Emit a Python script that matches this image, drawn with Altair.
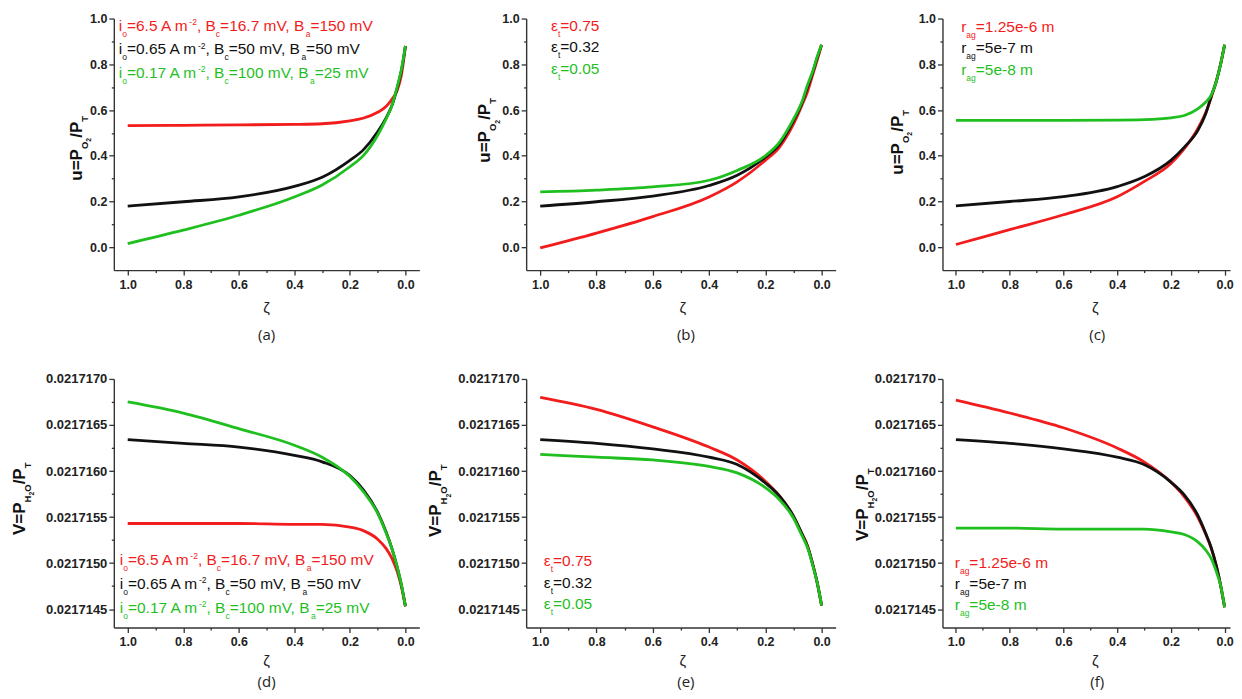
import altair as alt
import pandas as pd

# ---------------- data ----------------
ZETA = [1.0, 0.8, 0.6, 0.4, 0.3, 0.2, 0.15, 0.1, 0.07, 0.05, 0.03, 0.015, 0.0]

# u = P_O2 / P_T
A_RED = [0.532, 0.533, 0.535, 0.537, 0.540, 0.553, 0.565, 0.590, 0.615, 0.645, 0.685, 0.750, 0.880]
A_BLACK = [0.180, 0.199, 0.220, 0.266, 0.306, 0.380, 0.428, 0.505, 0.565, 0.615, 0.695, 0.770, 0.880]
A_GREEN = [0.016, 0.075, 0.140, 0.220, 0.272, 0.352, 0.403, 0.490, 0.560, 0.615, 0.700, 0.775, 0.880]

B_RED = [-0.003, 0.062, 0.134, 0.220, 0.286, 0.380, 0.437, 0.538, 0.620, 0.680, 0.760, 0.820, 0.885]
B_BLACK = [0.180, 0.199, 0.224, 0.270, 0.315, 0.394, 0.450, 0.553, 0.630, 0.700, 0.770, 0.830, 0.885]
B_GREEN = [0.242, 0.250, 0.264, 0.293, 0.336, 0.400, 0.459, 0.560, 0.635, 0.710, 0.775, 0.835, 0.885]

C_RED = [0.012, 0.077, 0.142, 0.221, 0.287, 0.366, 0.431, 0.518, 0.590, 0.655, 0.730, 0.800, 0.885]
C_BLACK = [0.181, 0.200, 0.221, 0.265, 0.308, 0.380, 0.438, 0.510, 0.585, 0.660, 0.730, 0.800, 0.885]
C_GREEN = [0.555, 0.555, 0.555, 0.556, 0.558, 0.566, 0.576, 0.605, 0.635, 0.665, 0.730, 0.800, 0.885]

# v = P_H2O / P_T
D_RED = [0.02171543, 0.02171543, 0.02171543, 0.02171542, 0.02171542, 0.02171539, 0.02171535,
         0.02171526, 0.02171516, 0.02171506, 0.02171491, 0.02171475, 0.02171453]
D_BLACK = [0.02171634, 0.02171630, 0.02171626, 0.02171617, 0.02171610, 0.02171595, 0.02171579,
           0.02171555, 0.02171534, 0.02171517, 0.02171496, 0.02171477, 0.02171453]
D_GREEN = [0.02171675, 0.02171663, 0.02171646, 0.02171628, 0.02171615, 0.02171594, 0.02171577,
           0.02171554, 0.02171533, 0.02171517, 0.02171496, 0.02171477, 0.02171453]

E_RED = [0.02171680, 0.02171667, 0.02171648, 0.02171626, 0.02171612, 0.02171589, 0.02171573,
         0.02171551, 0.02171532, 0.02171519, 0.02171497, 0.02171478, 0.02171454]
E_BLACK = [0.02171634, 0.02171630, 0.02171624, 0.02171615, 0.02171607, 0.02171587, 0.02171573,
           0.02171551, 0.02171532, 0.02171518, 0.02171497, 0.02171478, 0.02171454]
E_GREEN = [0.02171618, 0.02171615, 0.02171612, 0.02171605, 0.02171598, 0.02171582, 0.02171569,
           0.02171549, 0.02171530, 0.02171517, 0.02171496, 0.02171478, 0.02171454]

F_RED = [0.02171677, 0.02171663, 0.02171647, 0.02171625, 0.02171610, 0.02171588, 0.02171572,
         0.02171550, 0.02171531, 0.02171516, 0.02171496, 0.02171476, 0.02171452]
F_BLACK = [0.02171634, 0.02171630, 0.02171624, 0.02171615, 0.02171607, 0.02171588, 0.02171574,
           0.02171552, 0.02171532, 0.02171517, 0.02171496, 0.02171476, 0.02171452]
F_GREEN = [0.02171538, 0.02171538, 0.02171537, 0.02171537, 0.02171537, 0.02171534, 0.02171531,
           0.02171523, 0.02171514, 0.02171505, 0.02171490, 0.02171476, 0.02171452]

X_TICKS = [0.0, 0.1, 0.2, 0.3, 0.4, 0.5, 0.6, 0.7, 0.8, 0.9, 1.0]
U_TICKS = [0.0, 0.1, 0.2, 0.3, 0.4, 0.5, 0.6, 0.7, 0.8, 0.9, 1.0]
V_TICKS = [0.0217145, 0.02171475, 0.0217150, 0.02171525, 0.0217155, 0.02171575,
           0.0217160, 0.02171625, 0.0217165, 0.02171675, 0.0217170]

RED, BLACK, GREEN = "#f21c1c", "#111111", "#1fbf1f"

# legend texts: (text, kind) with kind n=normal, sub, sup
LEG_KIN = [
    ([("i", "n"), ("o", "sub"), ("=6.5 A m", "n"), ("-2", "sup"), (", B", "n"), ("c", "sub"),
      ("=16.7 mV, B", "n"), ("a", "sub"), ("=150 mV", "n")], RED),
    ([("i", "n"), ("o", "sub"), ("=0.65 A m", "n"), ("-2", "sup"), (", B", "n"), ("c", "sub"),
      ("=50 mV, B", "n"), ("a", "sub"), ("=50 mV", "n")], BLACK),
    ([("i", "n"), ("o", "sub"), ("=0.17 A m", "n"), ("-2", "sup"), (", B", "n"), ("c", "sub"),
      ("=100 mV, B", "n"), ("a", "sub"), ("=25 mV", "n")], GREEN),
]
LEG_EPS = [
    ([("ε", "n"), ("t", "sub"), ("=0.75", "n")], RED),
    ([("ε", "n"), ("t", "sub"), ("=0.32", "n")], BLACK),
    ([("ε", "n"), ("t", "sub"), ("=0.05", "n")], GREEN),
]
LEG_RAG = [
    ([("r", "n"), ("ag", "sub"), ("=1.25e-6 m", "n")], RED),
    ([("r", "n"), ("ag", "sub"), ("=5e-7 m", "n")], BLACK),
    ([("r", "n"), ("ag", "sub"), ("=5e-8 m", "n")], GREEN),
]
TITLE_U = [("u=P", "n"), ("O", "sub"), ("2", "subsub"), ("/P", "n"), ("T", "sub")]
TITLE_V = [("V=P", "n"), ("H", "sub"), ("2", "subsub"), ("O", "sub"), ("/P", "n"), ("T", "sub")]

FONT = "Liberation Sans"

# Arial-compatible advance widths (1/1000 em)
REG_W = {" ": 278, ",": 278, "-": 333, ".": 278, "=": 584, "A": 667, "B": 667, "V": 667,
         "a": 556, "c": 500, "e": 556, "g": 556, "i": 222, "m": 833, "o": 556, "r": 333,
         "t": 278, "ε": 440}
BOLD_W = {"u": 611, "=": 584, "P": 667, "O": 778, "/": 278, "T": 611, "V": 667, "H": 722}


def tw(s, size, bold=False):
    table = BOLD_W if bold else REG_W
    return sum(table.get(ch, 556) for ch in s) * size / 1000.0


def legend_rows(lines, x0, y0, dy, main=15.5):
    rows = []
    small = main * 0.55
    for i, (segs, color) in enumerate(lines):
        x = x0
        base = y0 + i * dy
        for txt, kind in segs:
            if kind == "n":
                fs, yy = main, base
            elif kind == "sub":
                fs, yy = small, base + 6.0
            else:
                fs, yy = small, base - 5.5
            rows.append({"px": x, "py": yy, "txt": txt, "fs": fs, "col": color})
            x += tw(txt, fs)
    return rows


def title_rows(segs, bx, cy, main=17.0):
    sizes = {"n": main, "sub": 9.5, "subsub": 7.0}
    shifts = {"n": 0.0, "sub": 6.0, "subsub": 9.5}
    total = sum(tw(t, sizes[k], True) for t, k in segs)
    y = cy + total / 2.0
    rows = []
    for t, k in segs:
        rows.append({"px": bx + shifts[k], "py": y, "txt": t, "fs": sizes[k]})
        y -= tw(t, sizes[k], True)
    return rows


U_TEST = "abs(round(datum.value * 10)) % 2 == 1"
V_TEST = "abs(round((datum.value - 0.0217145) / 0.00000025)) % 2 == 1"


def make_panel(zeta, series, kind, width, height, xdom, legend, leg_pos, title_pos,
               zeta_pos, label, label_pos):
    x_enc = alt.X(
        "zeta:Q",
        scale=alt.Scale(domain=xdom, reverse=True, nice=False, zero=False),
        axis=alt.Axis(orient="bottom", values=X_TICKS, title=None,
                      labelExpr=f"{U_TEST} ? '' : format(datum.value, '.1f')",
                      tickSize={"condition": {"test": U_TEST, "value": 2.5}, "value": 5},
                      labelFontSize=12.5, labelPadding=3, labelFlush=False, labelOverlap=False),
    )
    if kind == "u":
        y_enc = alt.Y(
            "val:Q",
            scale=alt.Scale(domain=[-0.1, 1.0], nice=False, zero=False),
            axis=alt.Axis(orient="left", values=U_TICKS, title=None,
                          labelExpr=f"{U_TEST} ? '' : format(datum.value, '.1f')",
                          tickSize={"condition": {"test": U_TEST, "value": 2.5}, "value": 5},
                          labelFontSize=12.5, labelPadding=2, labelFlush=False, labelOverlap=False),
        )
        tsegs = TITLE_U
    else:
        y_enc = alt.Y(
            "val:Q",
            scale=alt.Scale(domain=[0.0217143, 0.0217170], nice=False, zero=False),
            axis=alt.Axis(orient="left", values=V_TICKS, title=None,
                          labelExpr=f"{V_TEST} ? '' : format(datum.value, '.7f')",
                          tickSize={"condition": {"test": V_TEST, "value": 2.5}, "value": 5},
                          labelFontSize=13, labelPadding=2, labelFlush=False, labelOverlap=False),
        )
        tsegs = TITLE_V

    line_layers = []
    for vals, color in series:
        df = pd.DataFrame({"zeta": zeta, "val": vals})
        line_layers.append(
            alt.Chart(df).mark_line(color=color, strokeWidth=2.8, interpolate="monotone")
            .encode(x=x_enc, y=y_enc)
        )
    lines = alt.layer(*line_layers)

    leg = alt.Chart(pd.DataFrame(legend_rows(legend, *leg_pos))).mark_text(
        align="left", baseline="alphabetic", font=FONT
    ).encode(
        x=alt.X("px:Q", scale=None, axis=None),
        y=alt.Y("py:Q", scale=None, axis=None),
        text="txt:N",
        size=alt.Size("fs:Q", scale=None, legend=None),
        color=alt.Color("col:N", scale=None, legend=None),
    )

    ttl = alt.Chart(pd.DataFrame(title_rows(tsegs, *title_pos))).mark_text(
        align="left", baseline="alphabetic", font=FONT, fontWeight="bold", angle=270, color="#111111"
    ).encode(
        x=alt.X("px:Q", scale=None, axis=None),
        y=alt.Y("py:Q", scale=None, axis=None),
        text="txt:N",
        size=alt.Size("fs:Q", scale=None, legend=None),
    )

    zt = alt.Chart(pd.DataFrame({"px": [zeta_pos[0]], "py": [zeta_pos[1]], "txt": ["ζ"]})).mark_text(
        align="center", baseline="middle", font=FONT, fontSize=15, color="#222222"
    ).encode(
        x=alt.X("px:Q", scale=None, axis=None),
        y=alt.Y("py:Q", scale=None, axis=None),
        text="txt:N",
    )

    lb = alt.Chart(pd.DataFrame({"px": [label_pos[0]], "py": [label_pos[1]], "txt": [label]})).mark_text(
        align="center", baseline="middle", font="Open Sans", fontSize=15, color="#222222"
    ).encode(
        x=alt.X("px:Q", scale=None, axis=None),
        y=alt.Y("py:Q", scale=None, axis=None),
        text="txt:N",
    )

    return alt.layer(lines, leg, ttl, zt, lb).resolve_scale(
        x="independent", y="independent", color="independent", size="independent"
    ).properties(width=width, height=height)


W_A, W_B, W_C = 306, 310, 288
H1, H2 = 252, 249
XD_AB = [-0.05, 1.05]
XD_C = [-0.02, 1.05]

pa = make_panel(ZETA, [(A_RED, RED), (A_BLACK, BLACK), (A_GREEN, GREEN)], "u", W_A, H1, XD_AB,
                LEG_KIN, (5, 12, 23.7), (-32, 130), (153, H1 + 38), "(a)", (153, H1 + 65))
pb = make_panel(ZETA, [(B_RED, RED), (B_BLACK, BLACK), (B_GREEN, GREEN)], "u", W_B, H1, XD_AB,
                LEG_EPS, (25, 12.7, 21.3), (-36, 112), (157, H1 + 38), "(b)", (160, H1 + 65))
pc = make_panel(ZETA, [(C_RED, RED), (C_BLACK, BLACK), (C_GREEN, GREEN)], "u", W_C, H1, XD_C,
                LEG_RAG, (18.7, 13.7, 21.2), (-40, 124), (153, H1 + 38), "(c)", (155, H1 + 65))
pd_ = make_panel(ZETA, [(D_RED, RED), (D_BLACK, BLACK), (D_GREEN, GREEN)], "v", W_A, H2, XD_AB,
                 LEG_KIN, (6, 186, 24), (-89, 120), (153, H2 + 34), "(d)", (153, H2 + 55))
pe = make_panel(ZETA, [(E_RED, RED), (E_BLACK, BLACK), (E_GREEN, GREEN)], "v", W_B, H2, XD_AB,
                LEG_EPS, (17.7, 187.7, 21.2), (-85, 122), (157, H2 + 34), "(e)", (160, H2 + 55))
pf = make_panel(ZETA, [(F_RED, RED), (F_BLACK, BLACK), (F_GREEN, GREEN)], "v", W_C, H2, XD_C,
                LEG_RAG, (12.3, 189.3, 21.2), (-75, 126), (153, H2 + 34), "(f)", (155, H2 + 55))

chart = alt.concat(
    pa, pb, pc, pd_, pe, pf,
    columns=3,
    spacing={"row": 109, "column": 107},
    bounds="flush",
    align="each",
).properties(
    padding={"left": 2, "top": 4, "right": 0, "bottom": 0}
).configure_view(
    strokeOpacity=0
).configure_axis(
    grid=False,
    domainColor="#333333",
    domainWidth=1.4,
    tickColor="#333333",
    tickWidth=1.3,
    labelFont=FONT,
    labelFontWeight="bold",
    labelColor="#222222",
)

chart.save("out.html", embed_options={"renderer": "svg", "actions": False})
